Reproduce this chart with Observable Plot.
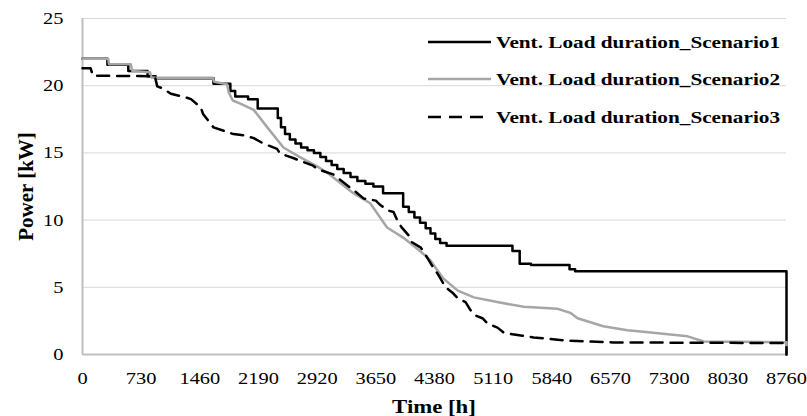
<!DOCTYPE html>
<html>
<head>
<meta charset="utf-8">
<script src="https://cdn.jsdelivr.net/npm/d3@7"></script>
<script src="https://cdn.jsdelivr.net/npm/@observablehq/plot@0.6"></script>
<style>
  body { margin: 0; background: #fff; }
  #wrap { width: 807px; height: 416px; }
</style>
</head>
<body>
<div id="wrap"></div>
<script>
// ---- data ----
const seriesNames = [
  "Vent. Load duration_Scenario1",
  "Vent. Load duration_Scenario2",
  "Vent. Load duration_Scenario3"
];
const xTitle = "Time [h]";
const yTitle = "Power [kW]";
const xTicks = [0, 730, 1460, 2190, 2920, 3650, 4380, 5110, 5840, 6570, 7300, 8030, 8760];
const yTicks = [0, 5, 10, 15, 20, 25];

// Scenario 1 (stepped)
const s1Hours = [0,310,570,810,910,1630,1840,1900,2060,2180,2430,2470,2520,2580,2650,2720,2800,2880,2960,3030,3100,3170,3250,3335,3420,3520,3620,3740,3990,4060,4130,4200,4270,4330,4390,4450,4530,5350,5440,5580,6060,6130,8760];
const s1Power = [22.0,21.55,21.1,20.7,20.55,20.15,19.6,19.2,19.0,18.3,17.6,16.9,16.4,16.0,15.7,15.4,15.2,15.0,14.7,14.4,14.1,13.8,13.5,13.2,12.9,12.7,12.5,12.0,11.0,10.6,10.2,9.8,9.4,9.0,8.6,8.3,8.1,7.7,6.75,6.65,6.35,6.2,0];

// Scenario 2
const s2Hours = [0,320,330,600,620,840,860,1620,1640,1800,1820,1870,1950,2130,2300,2500,2700,2920,3050,3370,3580,3790,3990,4200,4330,4400,4490,4670,4870,5160,5490,5910,6070,6160,6480,6780,6980,7530,7730,8760,8760];
const s2Power = [22.0,22.0,21.6,21.6,21.1,21.0,20.6,20.6,20.3,20.1,19.5,18.9,18.7,18.2,16.9,15.4,14.7,14.0,13.5,12.0,11.25,9.45,8.7,7.7,7.0,6.4,5.65,4.75,4.25,3.9,3.55,3.4,3.1,2.7,2.1,1.8,1.7,1.35,0.97,0.92,0];

// Scenario 3
const s3Hours = [0,100,130,900,930,1000,1100,1300,1350,1470,1500,1630,1880,2010,2130,2250,2420,2460,2630,2710,2870,2920,3120,3420,3500,3650,3710,3810,3870,3930,3980,4060,4100,4210,4260,4340,4420,4455,4517,4604,4666,4766,4828,4890,4977,5040,5164,5238,5350,5475,5612,5736,5910,6050,6600,8760,8760];
const s3Power = [21.3,21.3,20.75,20.7,19.95,19.8,19.4,19.1,19.0,18.4,17.9,16.9,16.4,16.3,16.1,15.7,15.3,14.95,14.6,14.4,14.05,13.8,13.4,12.0,11.6,11.45,11.1,10.7,10.6,9.8,9.4,8.85,8.35,7.95,7.5,6.7,6.0,5.65,5.0,4.6,4.2,3.9,3.3,2.9,2.7,2.3,2.0,1.65,1.5,1.4,1.27,1.2,1.1,1.02,0.9,0.85,0];

const toRows = (hs, ps) => hs.map((h, i) => ({h, p: ps[i]}));
const s1 = toRows(s1Hours, s1Power);
const s2 = toRows(s2Hours, s2Power);
const s3 = toRows(s3Hours, s3Power);

const serif = "'Liberation Serif', 'Times New Roman', serif";
const grayLine = "#a6a6a6";

const chart = Plot.plot({
  width: 807,
  height: 416,
  marginLeft: 82,
  marginRight: 21,
  marginTop: 18,
  marginBottom: 62,
  style: {fontFamily: serif, fontSize: "17px", color: "#000", background: "#fff", overflow: "visible"},
  x: {domain: [0, 8760]},
  y: {domain: [0, 25]},
  marks: [
    Plot.gridY(yTicks, {stroke: "#d9d9d9", strokeOpacity: 1, strokeWidth: 1}),
    Plot.ruleY([0], {stroke: "#bfbfbf", strokeWidth: 2}),
    Plot.ruleX([0], {stroke: "#bfbfbf", strokeWidth: 2}),
    Plot.line(s1, {x: "h", y: "p", curve: "step-after", stroke: "#000", strokeWidth: 2.5}),
    Plot.line(s2, {x: "h", y: "p", stroke: grayLine, strokeWidth: 2.5}),
    Plot.line(s3, {x: "h", y: "p", stroke: "#000", strokeWidth: 2.5, strokeDasharray: "12,8"}),
    Plot.axisX({ticks: xTicks, tickSize: 0, tickPadding: 17, tickFormat: d => String(d), label: null}),
    Plot.axisY({ticks: yTicks, tickSize: 0, tickPadding: 19, tickFormat: d => String(d), label: null})
  ]
});

document.getElementById("wrap").appendChild(chart);
const svg = d3.select(chart);

// horizontal stretch of text, as in the reference
function stretch(sel, factor) {
  sel.each(function () {
    const w = this.getComputedTextLength();
    this.setAttribute("textLength", (w * factor).toFixed(1));
    this.setAttribute("lengthAdjust", "spacingAndGlyphs");
  });
}
stretch(svg.selectAll('g[aria-label="x-axis tick label"] text'), 1.2);
stretch(svg.selectAll('g[aria-label="y-axis tick label"] text'), 1.2);

// axis titles
const xt = svg.append("text")
  .attr("x", 434).attr("y", 413)
  .attr("text-anchor", "middle")
  .attr("font-family", serif).attr("font-weight", "bold").attr("font-size", 19)
  .attr("fill", "#000")
  .text(xTitle);
stretch(xt, 1.2);
svg.append("text")
  .attr("transform", "translate(33,186.5) rotate(-90)")
  .attr("text-anchor", "middle")
  .attr("font-family", serif).attr("font-weight", "bold").attr("font-size", 21)
  .attr("fill", "#000")
  .text(yTitle);

// legend (inside plot area, top right)
const legendStyles = [
  {stroke: "#000", dash: null},
  {stroke: grayLine, dash: null},
  {stroke: "#000", dash: "13,8"}
];
const legendRowY = [42, 79, 117];
const lg = svg.append("g").attr("aria-label", "legend");
seriesNames.forEach((name, i) => {
  const y = legendRowY[i];
  lg.append("line")
    .attr("x1", 428).attr("x2", 491).attr("y1", y).attr("y2", y)
    .attr("stroke", legendStyles[i].stroke)
    .attr("stroke-width", 2.5)
    .attr("stroke-dasharray", legendStyles[i].dash);
  lg.append("text")
    .attr("x", 496).attr("y", y + 6)
    .attr("text-anchor", "start")
    .attr("font-family", serif)
    .attr("font-weight", "bold")
    .attr("font-size", 17)
    .attr("fill", "#000")
    .attr("textLength", 284)
    .attr("lengthAdjust", "spacingAndGlyphs")
    .text(name);
});
</script>
</body>
</html>
